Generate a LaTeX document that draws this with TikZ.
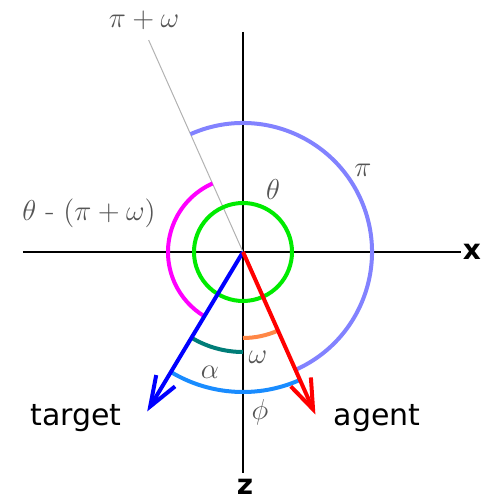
\documentclass[tikz,border=0pt]{standalone}
\usepackage{fontspec}
\usepackage{amsmath}
\usetikzlibrary{arrows.meta}
\newfontfamily\lblfont{DejaVu Sans}
\definecolor{arcgreen}{RGB}{0,235,0}
\definecolor{arcpi}{RGB}{130,130,255}
\definecolor{arcmag}{RGB}{255,0,255}
\definecolor{arcteal}{RGB}{0,125,120}
\definecolor{arcorange}{RGB}{255,135,70}
\definecolor{arcphi}{RGB}{25,140,255}
\definecolor{lblgray}{RGB}{85,85,85}

\begin{document}
\begin{tikzpicture}[x=0.5pt,y=0.5pt,
		axis/.style={black,line width=1pt},
		angarc/.style={line width=2pt},
		vec/.style={line width=2pt,-{Straight Barb[length=15pt,width=11pt]}},
		mathlbl/.style={text=lblgray,font=\fontsize{15}{18}\selectfont,inner sep=0pt},
		txtlbl/.style={font=\lblfont\fontsize{15}{18}\selectfont,inner sep=0pt},
		axlbl/.style={font=\lblfont\bfseries\fontsize{14}{17}\selectfont,inner sep=0pt}]
	\useasboundingbox (-243,-250) rectangle (240,252);
	\def\ag{-66};
	\def\tg{239};
	\coordinate (O) at (0,0);
	\coordinate (xL) at (-220,0);
	\coordinate (xR) at (218,0);
	\coordinate (zT) at (0,220);
	\coordinate (zB) at (0,-221);
	\coordinate (pw) at (114:232);
	\coordinate (agentTip) at (\ag:178);
	\coordinate (targetTip) at (\tg:186);
	\draw[axis] (xL) -- (xR);
	\draw[axis] (zT) -- (zB);
	\draw[gray!60,line width=0.5pt] (O) -- (pw);
	\draw[angarc,arcgreen] (O) ++(\ag:49) arc[start angle=\ag, end angle=294, radius=49];
	\draw[angarc,arcpi] (O) ++(\ag:129) arc[start angle=\ag, end angle=114, radius=129];
	\draw[angarc,arcmag] (O) ++(114:75) arc[start angle=114, end angle=\tg, radius=75];
	\draw[angarc,arcteal] (O) ++(\tg:100) arc[start angle=\tg, end angle=270, radius=100];
	\draw[angarc,arcorange] (O) ++(270:86) arc[start angle=270, end angle=294, radius=86];
	\draw[angarc,arcphi] (O) ++(\tg:140) arc[start angle=\tg, end angle=294, radius=140];
	\draw[vec,blue] (O) -- (targetTip);
	\draw[vec,red] (O) -- (agentTip);
	\node[mathlbl] (lpw) at (-99,232) {$\pi + \omega$};
	\node[mathlbl] (ltheta) at (30,62) {$\theta$};
	\node[mathlbl] (lpi) at (120,82) {$\pi$};
	\node[mathlbl] (ldiff) at (-154,39) {$\theta$ - $(\pi + \omega)$};
	\node[mathlbl] (lalpha) at (-33,-120) {$\alpha$};
	\node[mathlbl] (lomega) at (15,-105) {$\omega$};
	\node[mathlbl] (lphi) at (17,-160) {$\phi$};
	\node[txtlbl] (ltarget) at (-167,-166) {target};
	\node[txtlbl] (lagent) at (134,-166) {agent};
	\node[axlbl] (lx) at (229,0) {x};
	\node[axlbl] (lz) at (2,-235) {z};
\end{tikzpicture}
\end{document}
